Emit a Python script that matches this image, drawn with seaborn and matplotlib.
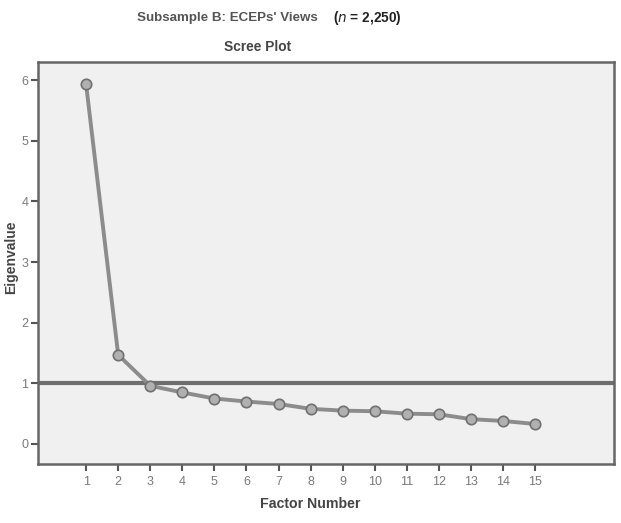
import pandas as pd
import matplotlib
matplotlib.use("Agg")
import matplotlib.pyplot as plt
import seaborn as sns

# values
factors = list(range(1, 16))
eigenvalues = [5.93, 1.47, 0.96, 0.85, 0.75, 0.70, 0.66, 0.58, 0.55,
               0.54, 0.50, 0.49, 0.41, 0.38, 0.33]
y_ticks = [0, 1, 2, 3, 4, 5, 6]
cutoff = 1.0

df = pd.DataFrame({"Factor Number": factors, "Eigenvalue": eigenvalues})

sns.set_style("white")
plt.rcParams["font.family"] = ["Liberation Sans", "DejaVu Sans"]

fig = plt.figure(figsize=(6.21, 5.23), dpi=100)
ax = fig.add_axes([0.0612, 0.1128, 0.9275, 0.7687])
ax.set_facecolor("#f0f0f0")

ax.axhline(cutoff, color="#6e6e6e", lw=3, zorder=2)
sns.lineplot(data=df, x="Factor Number", y="Eigenvalue", ax=ax,
             color="#8c8c8c", lw=2.8, marker="o", markersize=7.5,
             markerfacecolor="#b0b0b0", markeredgecolor="#707070",
             markeredgewidth=1.2, zorder=3)

ax.set_xlim(-0.5, 17.46)
ax.set_ylim(-0.33, 6.3)
ax.set_xticks(factors)
ax.set_yticks(y_ticks)
ax.tick_params(axis="both", direction="out", length=5, width=1.5,
               color="#555555", labelcolor="#7a7a7a", labelsize=9, bottom=True, left=True)
ax.tick_params(axis="y", pad=2)
for s in ax.spines.values():
    s.set_color("#666666")
    s.set_linewidth(1.8)

ax.set_xlabel("Factor Number", fontsize=10.2, fontweight="bold", color="#444444")
ax.xaxis.set_label_coords(0.472, -0.082)
ax.set_ylabel("Eigenvalue", fontsize=10, fontweight="bold", color="#444444")
ax.yaxis.set_label_coords(-0.035, 0.515)

fig.text(0.512, 0.965, "Subsample B: ECEPs' Views", ha="right", va="center",
         fontsize=9.6, fontweight="bold", color="#555555")
fig.text(0.536, 0.965, r"($\mathbf{\it{n}}$ = 2,250)", ha="left", va="center",
         fontsize=9.8, fontweight="bold", color="#222222")
fig.text(0.414, 0.910, "Scree Plot", ha="center", va="center",
         fontsize=9.9, fontweight="bold", color="#444444")

fig.savefig("out.png", dpi=100, facecolor="white")
